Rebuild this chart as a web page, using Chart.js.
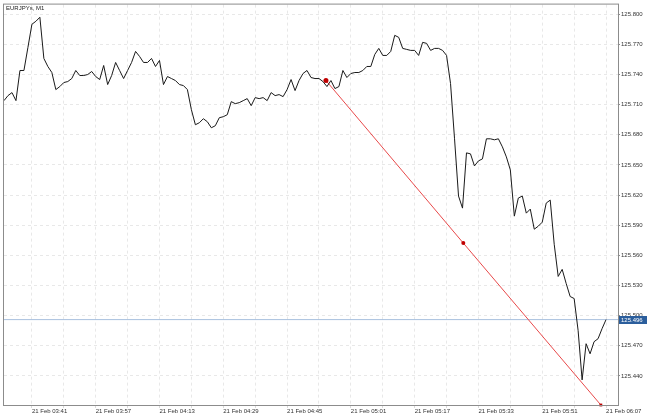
<!DOCTYPE html>
<html>
<head>
<meta charset="utf-8">
<script src="https://cdn.jsdelivr.net/npm/chart.js@4.4.1/dist/chart.umd.min.js"></script>
<style>
  html, body { margin: 0; padding: 0; background: #fff; }
</style>
</head>
<body>
<canvas id="canvas" width="650" height="416"></canvas>
<script>
var symbolTitle = 'EURJPYs, M1';

// one close per M1 bar, bar 0 = 21 Feb 03:34
var closes = [
  125.714, 125.719, 125.722, 125.714, 125.744, 125.744, 125.767, 125.790, 125.793, 125.797,
  125.756, 125.748, 125.742, 125.725, 125.728, 125.732, 125.733, 125.736, 125.744, 125.739,
  125.739, 125.740, 125.743, 125.738, 125.735, 125.749, 125.730, 125.739, 125.752, 125.744,
  125.736, 125.744, 125.752, 125.763, 125.758, 125.752, 125.752, 125.756, 125.748, 125.754,
  125.730, 125.738, 125.736, 125.734, 125.730, 125.729, 125.725, 125.705, 125.690, 125.692,
  125.696, 125.693, 125.687, 125.689, 125.697, 125.698, 125.700, 125.713, 125.711, 125.712,
  125.714, 125.716, 125.709, 125.717, 125.716, 125.717, 125.714, 125.722, 125.719, 125.720,
  125.718, 125.725, 125.735, 125.724, 125.734, 125.741, 125.744, 125.737, 125.736, 125.736,
  125.733, 125.728, 125.734, 125.726, 125.728, 125.744, 125.737, 125.741, 125.742, 125.742,
  125.744, 125.748, 125.748, 125.760, 125.766, 125.759, 125.759, 125.763, 125.779, 125.777,
  125.766, 125.765, 125.764, 125.764, 125.759, 125.772, 125.771, 125.764, 125.766, 125.766,
  125.764, 125.759, 125.731, 125.676, 125.619, 125.607, 125.662, 125.661, 125.649, 125.654,
  125.656, 125.676, 125.676, 125.675, 125.676, 125.668, 125.658, 125.645, 125.599, 125.617,
  125.619, 125.602, 125.606, 125.586, 125.589, 125.593, 125.612, 125.615, 125.571, 125.539,
  125.546, 125.532, 125.519, 125.517, 125.485, 125.436, 125.472, 125.462, 125.474, 125.477,
  125.487, 125.496
];

var timeLabels = ['21 Feb 03:41', '21 Feb 03:57', '21 Feb 04:13', '21 Feb 04:29', '21 Feb 04:45',
                  '21 Feb 05:01', '21 Feb 05:17', '21 Feb 05:33', '21 Feb 05:51', '21 Feb 06:07'];
var labelBars = [7, 23, 39, 55, 71, 87, 103, 119, 135, 151];
var gridBars = [7, 15, 23, 31, 39, 47, 55, 63, 71, 79, 87, 95, 103, 111, 119, 127, 135, 143, 151];

var yTicks = [125.44, 125.47, 125.50, 125.53, 125.56, 125.59, 125.62, 125.65, 125.68, 125.71, 125.74, 125.77, 125.80];
var lastPrice = 125.496;

// trend line drawn on the chart: start, middle, end
var trendBars = [80.75, 115.2, 149.7];
var trendPrices = [125.734, 125.5722, 125.411];

var fontFam = '"Liberation Sans", Arial, sans-serif';

var overlay = {
  id: 'overlay',
  afterDraw: function(chart) {
    var ctx = chart.ctx;
    var a = chart.chartArea;
    ctx.save();
    // frame
    ctx.strokeStyle = '#8c8c8c';
    ctx.lineWidth = 1;
    ctx.strokeRect(a.left - 0.5, a.top - 0.5, a.right - a.left + 1, a.bottom - a.top + 1);
    // title
    ctx.fillStyle = '#222';
    ctx.font = '6px ' + fontFam;
    ctx.textBaseline = 'middle';
    ctx.textAlign = 'left';
    ctx.fillText(symbolTitle, a.left + 2, a.top + 4);
    // last price label
    var y = chart.scales.y.getPixelForValue(lastPrice);
    ctx.fillStyle = '#2b5e9c';
    ctx.fillRect(a.right + 1, Math.round(y) - 4, 28, 8);
    ctx.fillStyle = '#fff';
    ctx.fillText(lastPrice.toFixed(3), a.right + 3, Math.round(y));
    ctx.restore();
  }
};

var ctx = document.getElementById('canvas').getContext('2d');
var myChart = new Chart(ctx, {
  type: 'line',
  data: {
    datasets: [{
      data: closes.map(function(c, i) { return {x: i, y: c}; }),
      borderColor: '#1a1a1a',
      borderWidth: 1,
      pointRadius: 0,
      tension: 0
    }, {
      data: trendBars.map(function(b, i) { return {x: b, y: trendPrices[i]}; }),
      borderColor: '#e8494a',
      borderWidth: 1,
      pointRadius: [2.5, 2, 2],
      pointStyle: ['circle', 'circle', 'rect'],
      pointBackgroundColor: '#c00000',
      pointBorderColor: '#c00000',
      pointBorderWidth: 0,
      clip: false
    }, {
      data: [{x: 0, y: lastPrice}, {x: 154, y: lastPrice}],
      borderColor: '#a8c0de',
      borderWidth: 1,
      pointRadius: 0
    }]
  },
  options: {
    responsive: false,
    animation: false,
    layout: { padding: { left: 2, top: 2, right: 0, bottom: 0 } },
    plugins: { legend: { display: false }, tooltip: { enabled: false } },
    scales: {
      x: {
        type: 'linear',
        min: 0,
        max: 154,
        afterBuildTicks: function(scale) {
          scale.ticks = gridBars.map(function(v) { return {value: v}; });
        },
        afterFit: function(scale) { scale.height = 11; },
        grid: { color: '#e8e8e8', tickLength: 3, tickColor: '#dadada' },
        border: { display: true, color: '#8c8c8c', dash: [3, 3] },
        ticks: {
          autoSkip: false,
          maxRotation: 0,
          align: 'start',
          padding: 0,
          color: '#333',
          font: { family: fontFam, size: 6 },
          callback: function(v) {
            var k = labelBars.indexOf(v);
            return k >= 0 ? timeLabels[k] : '';
          }
        }
      },
      y: {
        position: 'right',
        min: 125.411,
        max: 125.8096,
        afterBuildTicks: function(scale) {
          scale.ticks = yTicks.map(function(v) { return {value: v}; });
        },
        afterFit: function(scale) { scale.width = 32; },
        grid: { color: '#e8e8e8', tickLength: 2, tickColor: '#8c8c8c' },
        border: { display: true, color: '#8c8c8c', dash: [3, 3] },
        ticks: {
          padding: 1,
          color: '#333',
          font: { family: fontFam, size: 6 },
          callback: function(v) { return v.toFixed(3); }
        }
      }
    }
  },
  plugins: [overlay]
});
</script>
</body>
</html>
